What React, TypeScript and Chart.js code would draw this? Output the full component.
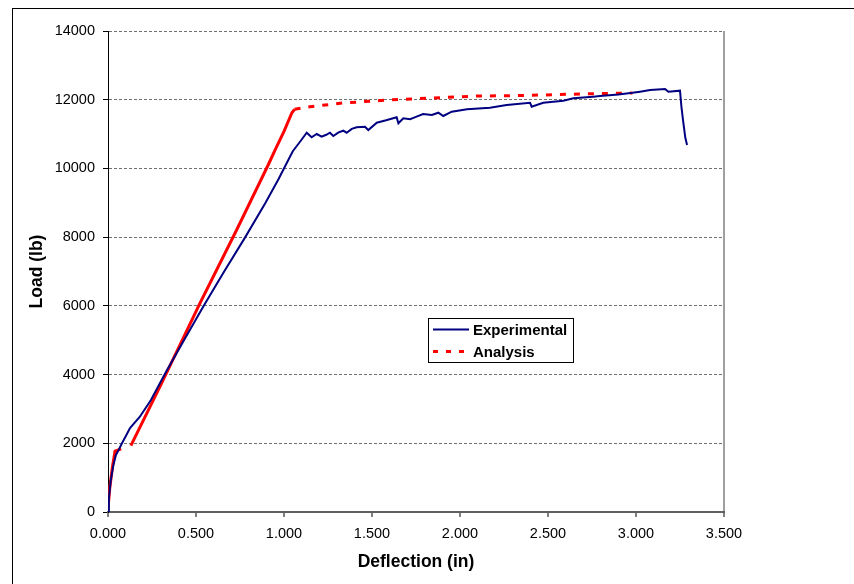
import React, { useEffect, useRef } from 'react';
import { Chart, registerables } from 'chart.js';

Chart.register(...registerables);

// ---- Data ----
const expDeflection = [
  0, 0.005, 0.015, 0.03, 0.045, 0.06, 0.08, 0.1, 0.125, 0.18, 0.244, 0.33, 0.426, 0.544, 0.66, 0.78,
  0.895, 0.97, 1.02, 1.05, 1.091, 1.129, 1.157, 1.186, 1.214, 1.24, 1.261, 1.28, 1.31, 1.337, 1.356,
  1.385, 1.413, 1.46, 1.479, 1.527, 1.58, 1.64, 1.65, 1.678, 1.716, 1.75, 1.79, 1.84, 1.877, 1.905,
  1.953, 2.04, 2.17, 2.265, 2.398, 2.407, 2.473, 2.587, 2.644, 2.757, 2.795, 2.9, 2.98, 3.023, 3.08,
  3.165, 3.184, 3.25, 3.258, 3.267, 3.28, 3.29,
];
const expLoad = [
  0, 400, 900, 1350, 1660, 1800, 2010, 2200, 2445, 2765, 3260, 4080, 4950, 6000, 7000, 8000,
  9000, 9700, 10200, 10500, 10777, 11040, 10905, 11002, 10924, 10980, 11040, 10944, 11050, 11098, 11040,
  11150, 11197, 11215, 11118, 11331, 11400, 11488, 11313, 11459, 11430, 11500, 11584, 11555, 11622, 11526,
  11652, 11720, 11768, 11846, 11913, 11797, 11913, 11971, 12041, 12088, 12108, 12150, 12200, 12234, 12283,
  12312, 12234, 12263, 11800, 11410, 10900, 10682,
];

const anaDeflection = [
  0, 0.01, 0.025, 0.04, 0.075, 0.13, 0.3, 0.52, 0.73, 0.91, 0.949, 1.0, 1.045, 1.06, 1.148, 1.336,
  1.59, 1.85, 2.1, 2.34, 2.68, 2.98,
];
const anaLoad = [
  100, 700, 1300, 1770, 1840, 1930, 3700, 6050, 8200, 10100, 10536, 11080, 11620, 11720, 11797, 11905,
  11990, 12050, 12108, 12120, 12166, 12195,
];

const xTicks = [0, 0.5, 1.0, 1.5, 2.0, 2.5, 3.0, 3.5];
const yTicks = [0, 2000, 4000, 6000, 8000, 10000, 12000, 14000];
const seriesLabels = ['Experimental', 'Analysis'];
const xTitle = 'Deflection (in)';
const yTitle = 'Load (lb)';

const FONT = "'Liberation Sans', Arial, Helvetica, sans-serif";
const BLUE = '#000080';
const RED = '#FF0000';

export default function App() {
  const ref = useRef<HTMLCanvasElement>(null);

  useEffect(() => {
    const canvas = ref.current;
    if (!canvas) return;

    const decorPlugin = {
      id: 'decor',
      afterDraw(chart: any) {
        const c = chart.ctx;
        c.save();
        // outer frame
        c.fillStyle = '#000';
        c.fillRect(12, 8, 842, 1);
        c.fillRect(12, 8, 1, 576);
        // legend
        const bx = 428.5, by = 318.5, bw = 145, bh = 44;
        c.fillStyle = '#fff';
        c.fillRect(bx, by, bw, bh);
        c.strokeStyle = '#000';
        c.lineWidth = 1;
        c.strokeRect(bx, by, bw, bh);
        const ds = chart.data.datasets;
        // series 1
        c.beginPath();
        c.strokeStyle = ds[0].borderColor;
        c.lineWidth = 2;
        c.setLineDash([]);
        c.moveTo(433, 329.5);
        c.lineTo(469, 329.5);
        c.stroke();
        // series 2
        c.beginPath();
        c.strokeStyle = ds[1].borderColor;
        c.lineWidth = 3;
        c.setLineDash([5, 8]);
        c.moveTo(433, 351.5);
        c.lineTo(471, 351.5);
        c.stroke();
        c.setLineDash([]);
        c.fillStyle = '#000';
        c.font = `bold 15px ${FONT}`;
        c.textAlign = 'left';
        c.textBaseline = 'alphabetic';
        c.fillText(ds[0].label, 473, 335);
        c.fillText(ds[1].label, 473, 357);
        c.restore();
      },
    };

    const chart = new Chart(canvas, {
      type: 'line',
      data: {
        datasets: [
          {
            label: seriesLabels[0],
            data: expDeflection.map((x, i) => ({ x, y: expLoad[i] })),
            borderColor: BLUE,
            backgroundColor: BLUE,
            borderWidth: 2,
            pointRadius: 0,
            tension: 0,
            fill: false,
          },
          {
            label: seriesLabels[1],
            data: anaDeflection.map((x, i) => ({ x, y: anaLoad[i] })),
            borderColor: RED,
            backgroundColor: RED,
            borderWidth: 3,
            pointRadius: 0,
            tension: 0,
            fill: false,
            segment: {
              borderDash: (ctx: any) => (ctx.p0.parsed.x >= 1.05 ? [6, 8] : undefined),
              borderColor: (ctx: any) =>
                ctx.p0.parsed.x > 0.07 && ctx.p0.parsed.x < 0.1 ? 'rgba(255,0,0,0)' : undefined,
            },
          } as any,
        ],
      },
      options: {
        animation: false,
        responsive: false,
        devicePixelRatio: 1,
        layout: { padding: { left: 0, top: 31, right: 130, bottom: 0 } },
        plugins: {
          legend: { display: false },
          tooltip: { enabled: false },
        },
        scales: {
          x: {
            type: 'linear',
            min: 0,
            max: 3.5,
            afterBuildTicks: (s: any) => {
              s.ticks = xTicks.map((v) => ({ value: v }));
            },
            afterFit: (s: any) => {
              s.height = 72;
            },
            ticks: {
              color: '#000',
              font: { family: FONT, size: 14.5 },
              padding: 8,
              maxRotation: 0,
              autoSkip: false,
              callback: (v: any) => Number(v).toFixed(3),
            },
            grid: {
              color: (ctx: any) => (ctx.tick && ctx.tick.value === 3.5 ? '#a0a0a0' : 'rgba(0,0,0,0)'),
              lineWidth: 2,
              tickColor: '#000',
              tickLength: 5,
              tickWidth: 1,
            },
            border: { display: true, color: '#606060', width: 2 },
            title: {
              display: true,
              text: xTitle,
              color: '#000',
              font: { family: FONT, size: 17.5, weight: 'bold' },
              padding: { top: 0, bottom: 11 },
            },
          },
          y: {
            type: 'linear',
            min: 0,
            max: 14000,
            afterBuildTicks: (s: any) => {
              s.ticks = yTicks.map((v) => ({ value: v }));
            },
            afterFit: (s: any) => {
              s.width = 108;
            },
            ticks: {
              color: '#000',
              font: { family: FONT, size: 14.5 },
              padding: 8,
              autoSkip: false,
              callback: (v: any) => String(v),
            },
            grid: {
              color: '#707070',
              lineWidth: 1,
              tickColor: '#000',
              tickLength: 5,
              tickWidth: 1,
              tickBorderDash: [],
            },
            border: { display: true, color: '#000', width: 1, dash: [3, 2] },
            title: {
              display: true,
              text: yTitle,
              color: '#000',
              font: { family: FONT, size: 17.5, weight: 'bold' },
              padding: { top: 27, bottom: 0 },
            },
          },
        },
      } as any,
      plugins: [decorPlugin],
    });

    return () => chart.destroy();
  }, []);

  return (
    <div style={{ position: 'fixed', left: 0, top: 0, width: 854, height: 584, background: '#fff' }}>
      <canvas ref={ref} width={854} height={584} style={{ display: 'block', width: 854, height: 584 }} />
    </div>
  );
}
